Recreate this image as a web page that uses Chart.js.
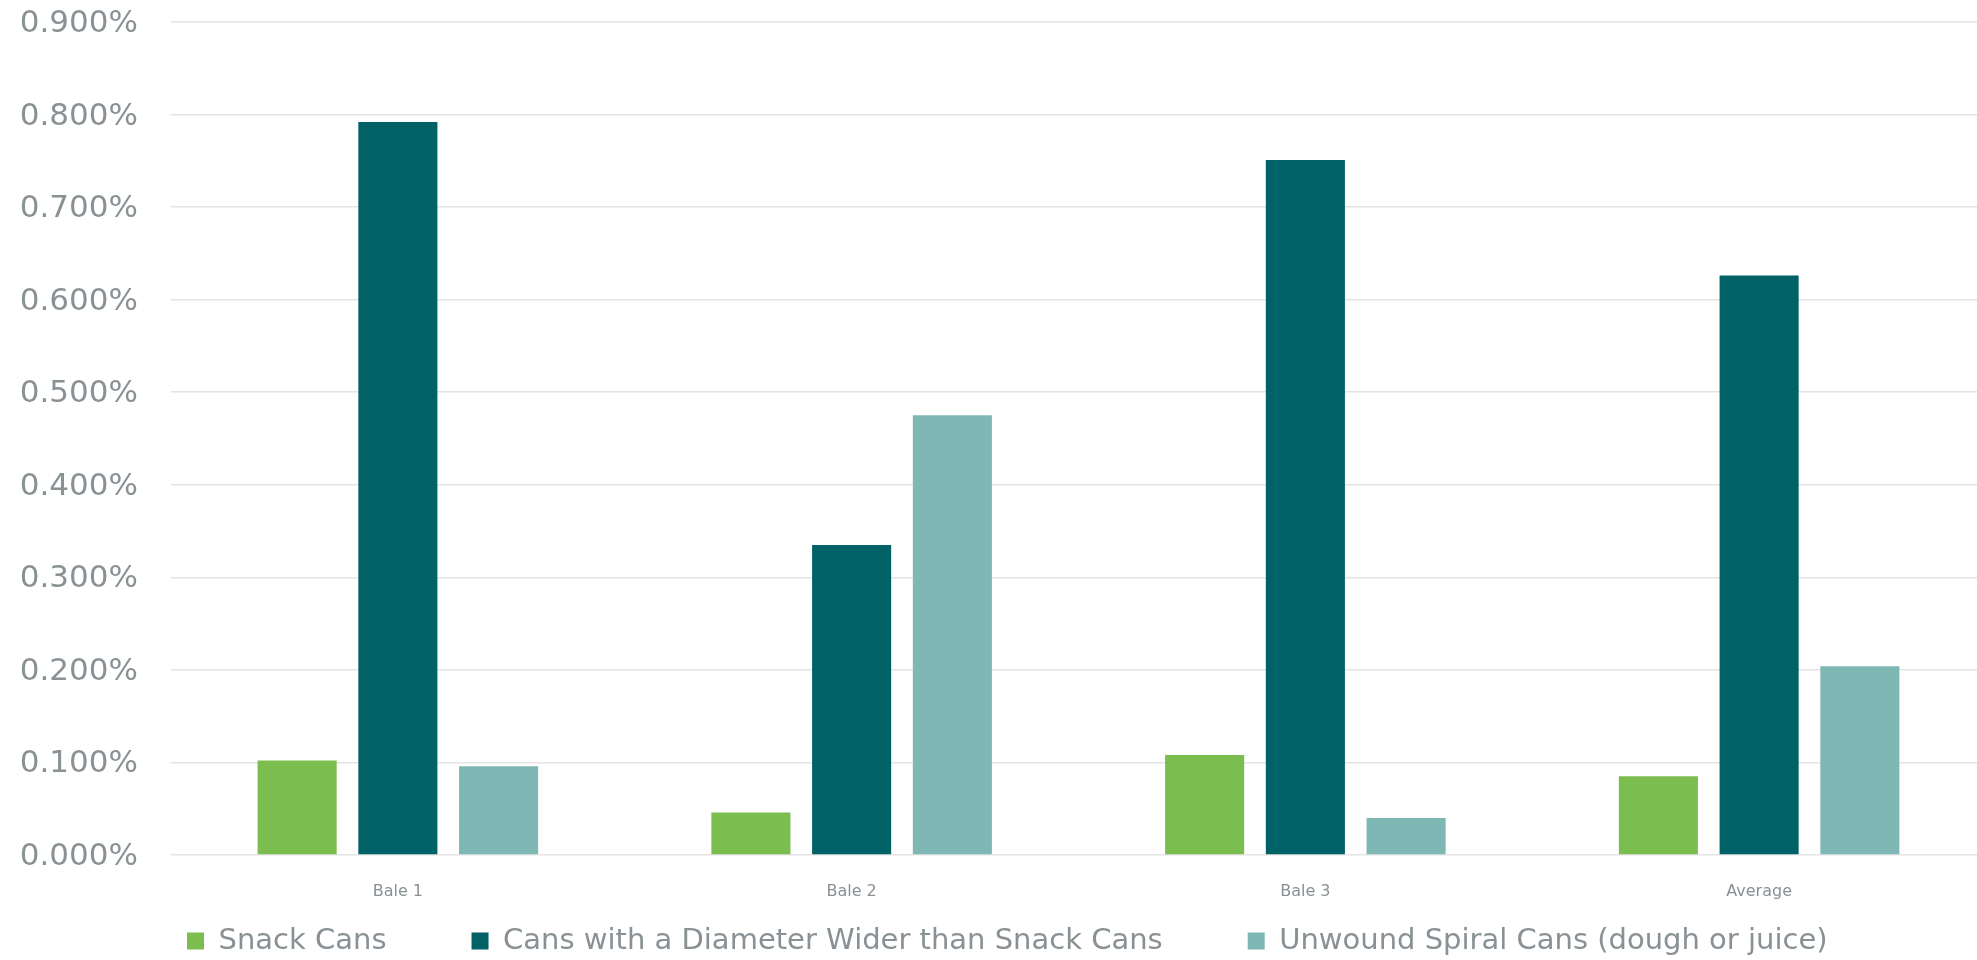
<!DOCTYPE html>
<html>
<head>
<meta charset="utf-8">
<script src="https://cdn.jsdelivr.net/npm/chart.js@4"></script>
<style>
    html, body { margin: 0; padding: 0; background: #fff; overflow: hidden; }
    .wrap { width: 1977px; height: 960px; overflow: hidden; }
    .wrap canvas { display: block; }
</style>
</head>
<body>
<div class="wrap">
    <canvas id="canChart" width="1986" height="960" style="width:1986px;height:960px"></canvas>
</div>
<script>
// categories + series (percent values)
const bales = ['Bale 1', 'Bale 2', 'Bale 3', 'Average'];
const snackCans = [0.102, 0.046, 0.108, 0.085];
const widerCans = [0.792, 0.335, 0.751, 0.626];
const spiralCans = [0.096, 0.475, 0.040, 0.204];

const textGray = '#899195';
const fontFamily = '"DejaVu Sans", sans-serif';

// legend items sit far apart but the row is low, so the legend
// box is moved / enlarged after layout (padding is used both ways)
const legendPlace = {
    id: 'legendPlace',
    afterLayout(chart) {
        const lg = chart.legend;
        const pad = lg.options.labels.padding;
        const size = lg.options.labels.font.size;
        lg.left = 187 - pad;
        lg.top = 941 - size / 2 - pad;
        lg.height = pad * 2 + size;
        lg.bottom = lg.top + lg.height;
    }
};

const ctx = document.getElementById('canChart').getContext('2d');
new Chart(ctx, {
    type: 'bar',
    data: {
        labels: bales,
        datasets: [
            {
                label: 'Snack Cans',
                data: snackCans,
                backgroundColor: '#7cbd4f'
            },
            {
                label: 'Cans with a Diameter Wider than Snack Cans',
                data: widerCans,
                backgroundColor: '#006167'
            },
            {
                label: 'Unwound Spiral Cans (dough or juice)',
                data: spiralCans,
                backgroundColor: '#7fb7b5'
            }
        ]
    },
    options: {
        responsive: false,
        animation: false,
        layout: { padding: { top: 22, right: 0, left: 0, bottom: 0 } },
        datasets: {
            bar: {
                categoryPercentage: 0.666,
                barPercentage: 0.785
            }
        },
        plugins: {
            tooltip: { enabled: false },
            legend: {
                position: 'bottom',
                align: 'start',
                maxHeight: 45,
                labels: {
                    color: textGray,
                    boxWidth: 17,
                    boxHeight: 17,
                    padding: 85,
                    font: { family: fontFamily, size: 29 }
                }
            }
        },
        scales: {
            x: {
                grid: { display: false },
                border: { display: false },
                ticks: {
                    color: textGray,
                    padding: 19,
                    font: { family: fontFamily, size: 16 }
                },
                afterFit(scale) { scale.height = 60; }
            },
            y: {
                min: 0,
                max: 0.9,
                border: { display: false },
                grid: {
                    color: '#e4e4e4',
                    lineWidth: 1.5,
                    drawTicks: true,
                    tickLength: 33,
                    tickColor: 'rgba(0,0,0,0)'
                },
                ticks: {
                    stepSize: 0.1,
                    color: textGray,
                    padding: 0,
                    labelOffset: 2,
                    font: { family: fontFamily, size: 31 },
                    callback: v => v.toFixed(3) + '%'
                },
                afterFit(scale) { scale.width = 171; }
            }
        }
    },
    plugins: [legendPlace]
});
</script>
</body>
</html>
